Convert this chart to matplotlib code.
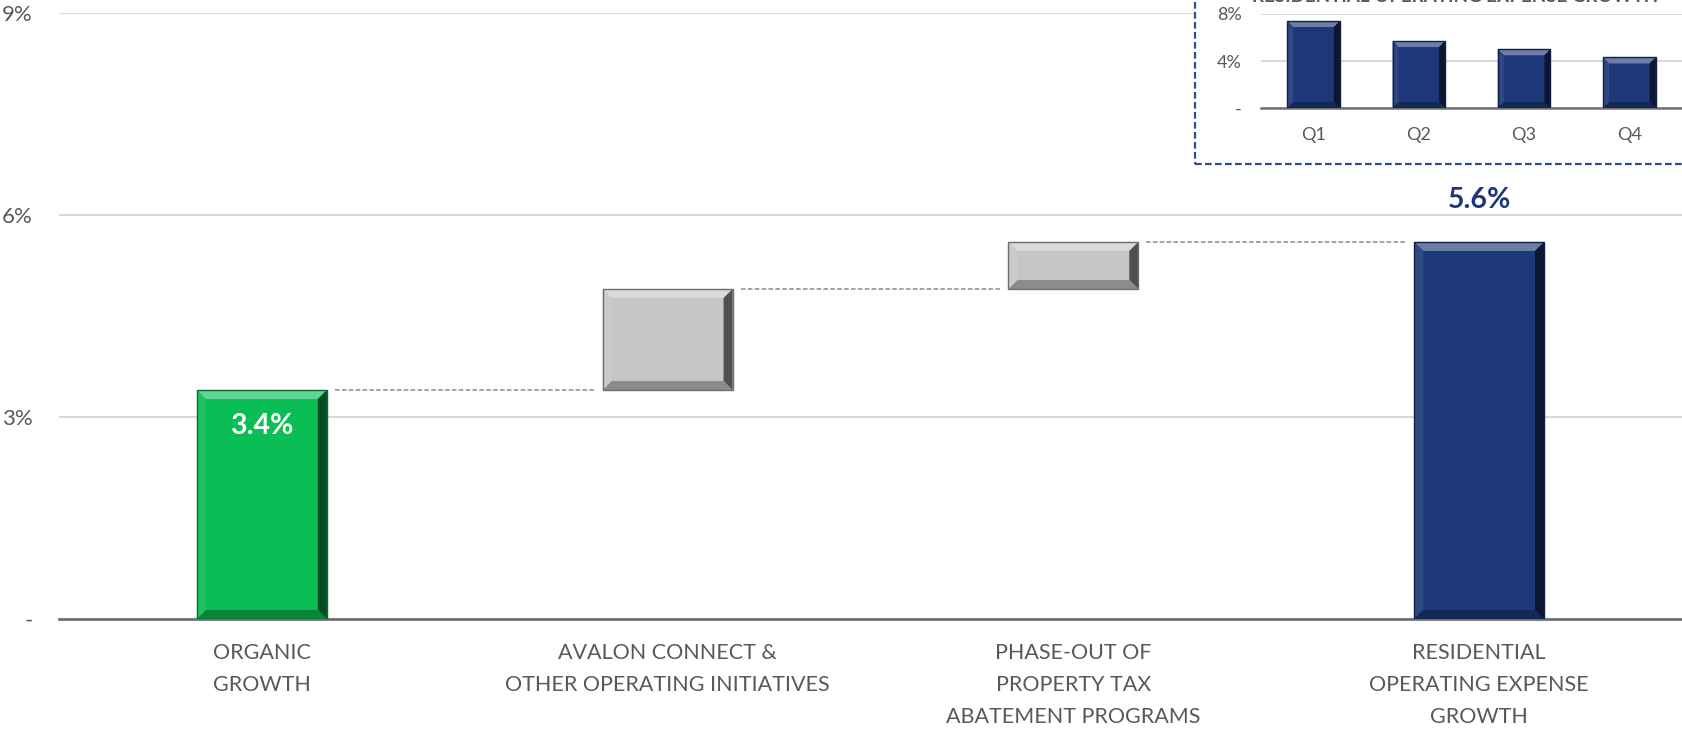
import matplotlib
matplotlib.use("Agg")
import matplotlib.pyplot as plt
import matplotlib.colors as mcolors
from matplotlib.patches import Polygon, Rectangle
import numpy as np

plt.rcParams["font.family"] = ["Lato", "DejaVu Sans"]

# ---------------------------------------------------------------------------
# data
# ---------------------------------------------------------------------------
categories = [
    "ORGANIC\nGROWTH",
    "AVALON CONNECT &\nOTHER OPERATING INITIATIVES",
    "PHASE-OUT OF\nPROPERTY TAX\nABATEMENT PROGRAMS",
    "RESIDENTIAL\nOPERATING EXPENSE\nGROWTH",
]
steps = [3.4, 1.5, 0.7]          # organic, avalon connect, tax abatement
total = 5.6
y_ticks = [0, 3, 6, 9]

inset_title = "RESIDENTIAL OPERATING EXPENSE GROWTH"
quarters = ["Q1", "Q2", "Q3", "Q4"]
quarter_growth = [7.4, 5.7, 5.0, 4.3]
inset_ticks = [0, 4, 8]

GREEN = "#0BBD55"
GREY = "#C5C7C6"
NAVY = "#1D3879"
TEXT = "#595959"


def mix(c, other, f):
    a = np.array(mcolors.to_rgb(c))
    b = np.array(mcolors.to_rgb(other))
    return tuple(a * (1 - f) + b * f)


def bevel(ax, bar, color, px):
    """Fake Excel 'bevel' look: four trapezoids around the bar edge."""
    bb = ax.get_window_extent()
    x0, x1 = ax.get_xlim()
    y0, y1 = ax.get_ylim()
    dx = px * (x1 - x0) / bb.width
    dy = px * (y1 - y0) / bb.height
    l, b = bar.get_x(), bar.get_y()
    r, t = l + bar.get_width(), b + bar.get_height()
    dy = min(dy, (t - b) / 3)
    faces = [
        ([(l, t), (r, t), (r - dx, t - dy), (l + dx, t - dy)], mix(color, "white", 0.35)),
        ([(l, b), (l, t), (l + dx, t - dy), (l + dx, b + dy)], mix(color, "white", 0.08)),
        ([(r, b), (r, t), (r - dx, t - dy), (r - dx, b + dy)], mix(color, "black", 0.6)),
        ([(l, b), (r, b), (r - dx, b + dy), (l + dx, b + dy)], mix(color, "black", 0.3)),
    ]
    for pts, fc in faces:
        ax.add_patch(Polygon(pts, closed=True, facecolor=fc, edgecolor="none", zorder=3))
    ax.add_patch(Rectangle((l, b), r - l, t - b, facecolor="none",
                           edgecolor=mix(color, "black", 0.45), lw=1, zorder=4))


fig = plt.figure(figsize=(16.82, 7.31), dpi=100)

# ---------------------------------------------------------------------------
# main waterfall
# ---------------------------------------------------------------------------
ax = fig.add_axes([59 / 1682, 112 / 731, 1623 / 1682, 606 / 731])
x = np.arange(len(categories))
w = 0.32

bottoms = [0, steps[0], steps[0] + steps[1], 0]
heights = [steps[0], steps[1], steps[2], total]
colours = [GREEN, GREY, GREY, NAVY]

bars = ax.bar(x, heights, bottom=bottoms, width=w, color=colours,
              edgecolor="none", zorder=2)

ax.set_xlim(-0.5, 3.5)
ax.set_ylim(0, 9)
ax.set_yticks(y_ticks)
ax.set_yticklabels(["-" if v == 0 else f"{v}%" for v in y_ticks])
ax.set_xticks(x)
ax.set_xticklabels(categories, linespacing=1.75)
ax.tick_params(axis="y", length=0, pad=19, labelsize=16, labelcolor=TEXT)
ax.tick_params(axis="x", length=0, pad=17, labelsize=15.5, labelcolor=TEXT)
ax.yaxis.grid(True, color="#D9D9D9", lw=1.5)
ax.set_axisbelow(True)
for s in ["top", "right", "left"]:
    ax.spines[s].set_visible(False)
ax.spines["bottom"].set_color("#707070")
ax.spines["bottom"].set_linewidth(2)

for bar, c in zip(bars, colours):
    bevel(ax, bar, c, 9)

# dashed connectors between running totals
levels = np.cumsum(steps)
gap = 0.02
for i, lv in enumerate(levels):
    ax.plot([x[i] + w / 2 + gap, x[i + 1] - w / 2 - gap], [lv, lv],
            ls=(0, (3, 1.5)), color="#8C8C8C", lw=1.1, zorder=2)

ax.text(x[0], steps[0] - 0.53, f"{steps[0]:.1f}%", ha="center", va="center",
        color="white", fontsize=20.5, fontweight="bold", zorder=5)
ax.text(x[3], total + 0.62, f"{total:.1f}%", ha="center", va="center",
        color=NAVY, fontsize=20.5, fontweight="bold", zorder=5)

# ---------------------------------------------------------------------------
# inset: quarterly growth
# ---------------------------------------------------------------------------
fig.patches.append(Rectangle((1195 / 1682, 1 - 164 / 731), 0.5, 0.5,
                             transform=fig.transFigure, facecolor="white",
                             edgecolor="#2E4C8E", lw=1.6, ls=(0, (3, 1.5)),
                             zorder=5))

iax = fig.add_axes([1261 / 1682, 1 - 108 / 731, 421 / 1682, 94 / 731], zorder=6)
iax.patch.set_alpha(0)
ibars = iax.bar(np.arange(len(quarters)), quarter_growth, width=0.5,
                color=NAVY, edgecolor="none", zorder=2)
iax.set_xlim(-0.5, 3.5)
iax.set_ylim(0, 8)
iax.set_yticks(inset_ticks)
iax.set_yticklabels(["-" if v == 0 else f"{v}%" for v in inset_ticks])
iax.set_xticks(np.arange(len(quarters)))
iax.set_xticklabels(quarters)
iax.tick_params(axis="y", length=0, pad=14, labelsize=13, labelcolor=TEXT)
iax.tick_params(axis="x", length=0, pad=14, labelsize=13, labelcolor=TEXT)
iax.yaxis.grid(True, color="#D9D9D9", lw=1.5)
iax.set_axisbelow(True)
for s in ["top", "right", "left"]:
    iax.spines[s].set_visible(False)
iax.spines["bottom"].set_color("#707070")
iax.spines["bottom"].set_linewidth(1.8)
for bar in ibars:
    bevel(iax, bar, NAVY, 6)

# title of the inset sits mostly above the slide edge, as in the source
fig.text(1455 / 1682, 1 - 1.5 / 731, inset_title, ha="center", va="baseline",
         fontsize=13.5, fontweight="bold", color=TEXT, zorder=7)

fig.savefig("out.png", dpi=100)
